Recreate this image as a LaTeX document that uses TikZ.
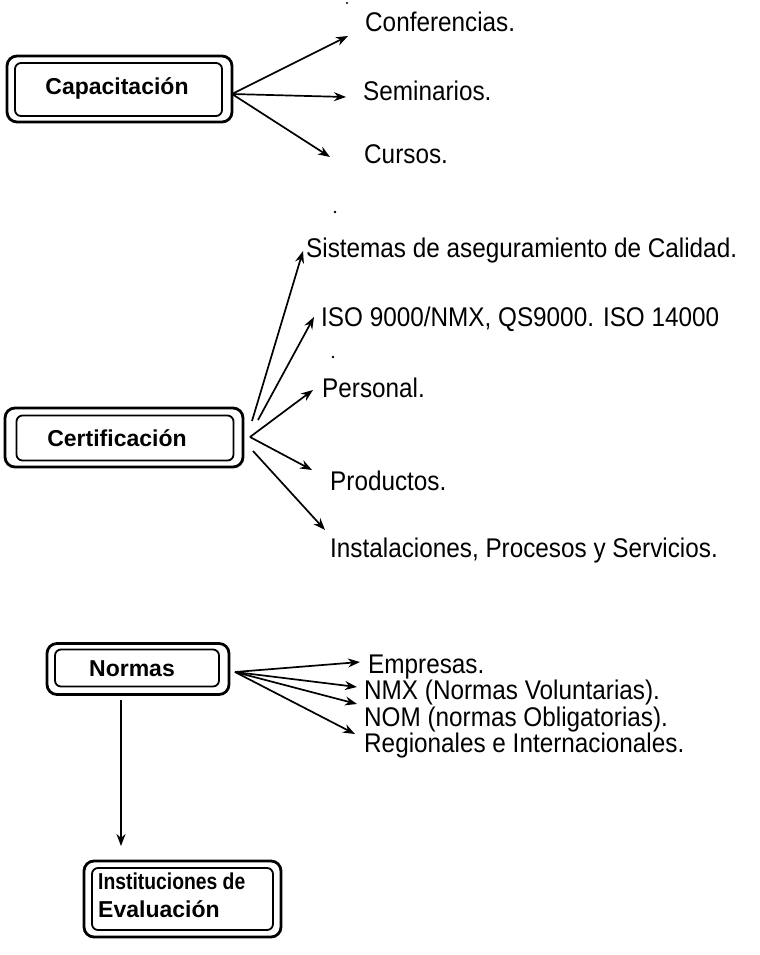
\documentclass[tikz,border=0pt]{standalone}
\usepackage{fontspec}
\setmainfont{Liberation Sans}
\newfontfamily\itemfont{Liberation Sans}[FakeStretch=0.9]
\newfontfamily\condfont{Liberation Sans}[FakeStretch=0.84]
\usetikzlibrary{arrows.meta}
\begin{document}
\begin{tikzpicture}[x=1bp,y=-1bp,
  outerbox/.style={draw, line width=2.8bp, rounded corners=10bp, inner sep=0pt},
  innerbox/.style={draw, line width=1.8bp, rounded corners=6bp, inner sep=0pt},
  boxtext/.style={font=\fontsize{23bp}{28bp}\selectfont\bfseries, inner sep=0pt},
  itemtext/.style={font=\itemfont\fontsize{27bp}{30bp}\selectfont, inner sep=0pt, anchor=base west},
  arr/.style={line width=1.7bp, -{Stealth[length=12bp,width=9bp]}}]
\useasboundingbox (0,0) rectangle (760,955);

% --- Capacitación ---
\node[outerbox, minimum width=225bp, minimum height=66bp] (capo) at (119.5,89) {};
\node[innerbox, minimum width=207bp, minimum height=53bp] (capi) at (118.5,89.5) {};
\node[boxtext] (capt) at (117,88) {Capacitación};
\coordinate (capx) at (232,94);
\node[itemtext] (conf) at (365,31) {Conferencias.};
\node[itemtext] (semi) at (363,100) {Seminarios.};
\node[itemtext] (curs) at (364,163) {Cursos.};
\coordinate (conft) at (348,36);
\coordinate (semit) at (346,97);
\coordinate (curst) at (330,157);
\draw[arr] (capx) -- (conft);
\draw[arr] (capx) -- (semit);
\draw[arr] (capx) -- (curst);

% --- Certificación ---
\node[outerbox, minimum width=238bp, minimum height=59bp] (certo) at (124,437.5) {};
\node[innerbox, minimum width=217bp, minimum height=45bp] (certi) at (125,438) {};
\node[boxtext] (certt) at (117,438) {Certificación};
\coordinate (certx) at (250,437);
\coordinate (certa) at (252,421);
\coordinate (certb) at (258,420);
\coordinate (certc) at (253,451);
\node[itemtext] (sist) at (306,257) {Sistemas de aseguramiento de Calidad.};
\node[itemtext] (iso) at (321,326) {ISO 9000/NMX, QS9000. ISO 14000};
\node[itemtext] (pers) at (322,397) {Personal.};
\node[itemtext] (prod) at (330,490) {Productos.};
\node[itemtext] (inst) at (330,557) {Instalaciones, Procesos y Servicios.};
\coordinate (sistt) at (303,251);
\coordinate (isot) at (314,317);
\coordinate (perst) at (313,390);
\coordinate (prodt) at (312,470);
\coordinate (instt) at (325,530);
\draw[arr] (certa) -- (sistt);
\draw[arr] (certb) -- (isot);
\draw[arr] (certx) -- (perst);
\draw[arr] (certx) -- (prodt);
\draw[arr] (certc) -- (instt);

% --- Normas ---
\node[outerbox, minimum width=182bp, minimum height=51bp] (normo) at (138,669) {};
\node[innerbox, minimum width=164bp, minimum height=37bp] (normi) at (137,668) {};
\node[boxtext] (normt) at (132,669) {Normas};
\coordinate (normx) at (235,672);
\node[itemtext] (empr) at (368,673) {Empresas.};
\node[itemtext] (nmx) at (364,699) {NMX (Normas Voluntarias).};
\node[itemtext] (nom) at (364,726) {NOM (normas Obligatorias).};
\node[itemtext] (regi) at (364,752) {Regionales e Internacionales.};
\coordinate (emprt) at (360,662);
\coordinate (nmxt) at (357,687);
\coordinate (nomt) at (357,704);
\coordinate (regit) at (355,734);
\draw[arr] (normx) -- (emprt);
\draw[arr] (normx) -- (nmxt);
\draw[arr] (normx) -- (nomt);
\draw[arr] (normx) -- (regit);

% --- Instituciones de Evaluación ---
\node[outerbox, minimum width=197bp, minimum height=76bp] (insto) at (182.5,899) {};
\node[innerbox, minimum width=181bp, minimum height=62bp] (insti) at (182.5,899) {};
\node[boxtext, align=left, anchor=north west] (instt) at (98,872.5) {{\condfont\bfseries Instituciones de}\\Evaluación};
\coordinate (normd) at (121,700);
\coordinate (instd) at (121,846);
\draw[arr] (normd) -- (instd);

% specks
\fill (347,3) circle (1.2bp);
\fill (335,212) circle (1.3bp);
\fill (333,357) circle (1.3bp);
\end{tikzpicture}
\end{document}
